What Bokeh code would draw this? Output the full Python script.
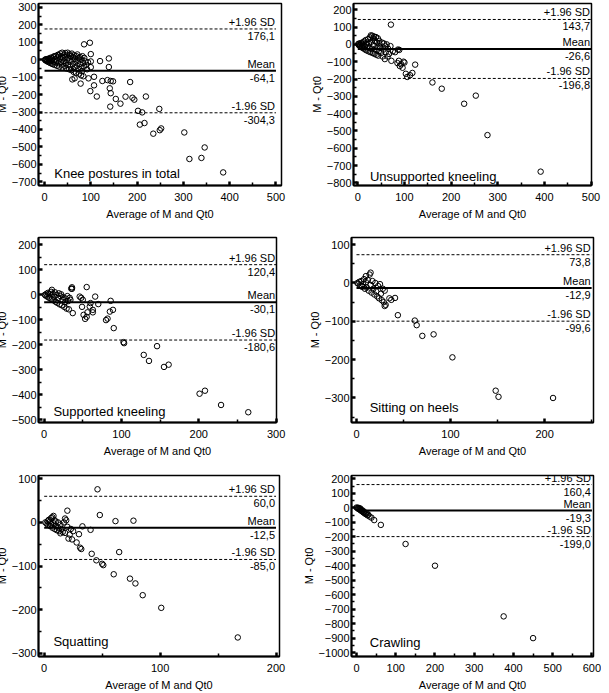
from bokeh.plotting import figure
from bokeh.layouts import column, row
from bokeh.models import FixedTicker, Label, Range1d
from bokeh.embed import file_html
from bokeh.resources import INLINE

FONT = "Liberation Sans"

# ---------------- data ----------------
titles = ["Knee postures in total", "Unsupported kneeling", "Supported kneeling",
          "Sitting on heels", "Squatting", "Crawling"]
upper_sd = [176.1, 143.7, 120.4, 73.8, 60.0, 160.4]
mean_diff = [-64.1, -26.6, -30.1, -12.9, -12.5, -19.3]
lower_sd = [-304.3, -196.8, -180.6, -99.6, -85.0, -199.0]

# Knee postures in total
x1 = [1, 2, 3, 4, 5, 6, 7, 8, 9, 10, 11, 12, 13, 14, 15, 16, 17, 18, 19, 20,
      21, 22, 23, 24, 25, 26, 27, 28, 29, 30, 31, 32, 33, 34, 35, 36, 37, 38, 39, 40,
      41, 42, 43, 44, 45, 46, 47, 48, 49, 50, 51, 52, 53, 54, 55, 56, 57, 58, 59, 60,
      61, 62, 63, 64, 65, 66, 67, 68, 69, 70, 71, 72, 73, 74, 75, 76, 77, 78, 79, 80,
      81, 82, 83, 84, 85, 86, 88, 90, 92, 94,
      85.5, 98, 100, 120, 139, 139, 100, 100, 95, 107, 125, 136, 143, 148, 99, 107,
      113, 141, 143, 142, 154, 164, 175, 185, 190, 194, 219, 202, 211, 206, 216, 235,
      248, 249, 252, 302, 313, 339, 346, 386, 60, 65, 78]
y1 = [0, -3, 2, -6, 3, -10, -4, 5, -14, -2, 8, -18, -8, 12, -22, -1, 6, -26, 15, -10,
      20, -30, 3, -15, 22, -5, -35, 12, 28, -20, 25, -40, 5, 35, -12, 18, -28, 40, -45, 8,
      -8, 28, -35, 15, 38, -20, -50, 0, 25, 40, -30, 10, -55, -10, 30, -40, 20, -60, 35, -5,
      -25, 15, -70, 25, -45, 5, -15, -75, 20, -35, 30, -55, -5, 10, -80, -25, 15, -45, -90, 0,
      -65, 20, -20, -95, -40, 10, -10, -30, -55, -15,
      88, 97, 32, -8, 7, -42, -10, -43, -107, -98, -122, -117, -122, -124, -180, -147,
      -211, -164, -192, -269, -225, -252, -212, -128, -218, -229, -211, -293, -302, -372, -363, -424,
      -282, -404, -394, -417, -569, -563, -503, -646, -113, -107, -137]

# Unsupported kneeling
x2 = [1, 2, 3, 4, 5, 6, 7, 8, 9, 10, 11, 12, 13, 14, 15, 16, 17, 18, 19, 20,
      21, 22, 23, 24, 25, 26, 27, 28, 29, 30, 31, 32, 33, 34, 35, 36, 37, 38, 39, 40,
      41, 42, 43, 44, 45, 46, 47, 48, 50, 52, 53, 55, 56, 58, 59, 60, 62, 64, 65, 67,
      70, 72, 75, 80, 86, 89,
      71, 85, 88, 90, 93, 96, 98, 100, 103, 106, 112, 117, 123,
      160, 180, 228, 253, 278, 392]
y2 = [2, -4, 5, -8, -2, -12, 8, -15, 3, -20, 12, -5, -24, 18, -10, -30, 25, 0, -35, 10,
      -15, 30, -40, 5, -20, 40, -45, 52, 15, -25, 50, -50, 35, -5, 45, -55, 20, -30, 42, -60,
      10, -15, 35, -65, -40, 20, 0, -20, -50, 10, -70, -30, 5, -85, -10, -45, 0, -70, -25, -55,
      -10, -95, -40, -45, -30, -32,
      114, -108, -95, -125, -115, -135, -100, -105, -170, -188, -178, -165, -117,
      -220, -256, -343, -296, -524, -735]

# Supported kneeling
x3 = [1, 2, 3, 4, 5, 6, 7, 8, 9, 10, 10, 11, 12, 13, 14, 15, 16, 17, 18, 19,
      20, 21, 22, 23, 24, 25, 26, 27, 28, 29, 30, 31, 32, 33, 34, 35, 36, 37,
      36, 55, 46, 48, 50, 66, 70, 60, 59, 63, 63, 49, 51, 53, 55, 56, 86, 80, 82,
      85, 89, 90, 102.6, 103.4, 128.8, 135.6, 146, 155, 161, 201, 208, 228.8, 264]
y3 = [0, -3, 4, -7, 8, -11, 2, -15, 12, 20, -18, 5, -22, -8, 10, -28, 0, -32, -12, 6,
      -38, -5, 2, -42, -20, -10, -48, -30, -15, -55, -5, -25, -58, -12, -20, 25, 30, -73,
      24, 31, -7, -12, -20, -7, -37, -33, -47, -60, -70, -48, -80, -96, -88, -70, -24, -101, -95,
      -67, -60, -133, -189, -193, -240, -264, -205, -288, -279, -395, -383, -440, -469]

# Sitting on heels
x4 = [1, 2, 3, 4, 5, 6, 7, 8, 9, 10, 10, 11, 12, 13, 14, 15, 15, 16, 17, 18,
      19, 20, 21, 22, 23, 24, 25, 26, 27, 28, 29, 30, 31, 30, 35, 37, 41,
      44, 62, 64, 70, 82, 102, 148, 151, 209]
y4 = [0, -2, 3, -6, 5, -10, -3, 10, -15, 2, 18, -12, 8, -20, 22, 27, -5, -25, 5, -15,
      -30, 0, -22, -35, -8, -40, -3, -28, -45, -15, -50, -20, -57, -60, -40, -44, -39,
      -84, -98, -110, -138, -134, -194, -281, -297, -300]

# Squatting
x5 = [1, 2, 3, 3, 4, 5, 5, 6, 6, 7, 7, 8, 8, 9, 9, 10, 10, 11, 12, 12,
      13, 14, 14, 15, 16, 17, 18, 18, 19, 20, 20, 21, 22, 23, 24, 25, 28, 30, 31, 32,
      46, 48, 61.5, 77, 33, 41, 45, 50, 51, 64.7, 60, 74, 78.7, 85, 101, 167, 40]
y5 = [0, -2, 3, -5, 6, -8, 2, 10, -4, 12, -12, 15, -2, 5, -15, -8, 2, -18, -12, 0,
      -20, -5, -25, -15, -22, 0, -24, 9, 5, -10, 27, -37, -28, -15, -39, -20, -46, -27, -58, -61,
      76, 17, 3, 4, -9, -72, -87, -95, -98, -68, -119, -129, -140, -167, -196, -264, -17]

# Crawling
x6 = [0, 2, 4, 5, 6, 8, 9, 10, 11, 12, 14, 15, 16, 18, 19, 20, 22, 24, 26, 28,
      30, 33, 38, 45, 62, 125, 200, 375, 450]
y6 = [2, -1, -5, 0, -8, -12, -4, -16, -10, -20, -24, -18, -28, -32, -26, -36, -40, -44, -38, -52,
      -48, -60, -68, -85, -118, -250, -400, -750, -900]

xs = [x1, x2, x3, x4, x5, x6]
ys = [y1, y2, y3, y4, y5, y6]

# ---------------- layout / styling ----------------
cfg = [
    dict(w=304, h=231, b=(3, 15, 43, 43), xr=(-13, 512), yr=(-721, 322),
         xt=[0, 100, 200, 300, 400, 500], xm=[50, 150, 250, 350, 450],
         yt=list(range(-700, 301, 100)), ym=list(range(-650, 251, 100)),
         end=500, tpos=(21, -651)),
    dict(w=305, h=231, b=(1, 10, 46, 57), xr=(-9.2, 501), yr=(-815, 236),
         xt=[0, 100, 200, 300, 400, 500], xm=[50, 150, 250, 350, 450],
         yt=list(range(-800, 201, 100)), ym=list(range(-750, 151, 100)),
         end=500, tpos=(26, -762)),
    dict(w=304, h=231, b=(6, 20, 40, 45), xr=(-7.3, 300.5), yr=(-510, 229),
         xt=[0, 100, 200, 300], xm=[50, 150, 250],
         yt=list(range(-500, 201, 100)), ym=list(range(-450, 151, 100)),
         end=300, tpos=(12, -467)),
    dict(w=305, h=231, b=(6, 8, 36, 55), xr=(-5.3, 252), yr=(-364, 118.7),
         xt=[0, 100, 200], xm=[50, 150, 250],
         yt=list(range(-300, 101, 100)), ym=list(range(-350, 51, 100)),
         end=250, tpos=(14, -325)),
    dict(w=304, h=231, b=(13, 17, 34, 45), xr=(-4.9, 203), yr=(-307.7, 107.7),
         xt=[0, 100, 200], xm=[50, 150],
         yt=list(range(-300, 101, 100)), ym=list(range(-250, 51, 100)),
         end=200, tpos=(8, -273)),
    dict(w=305, h=231, b=(13, 8, 34, 55), xr=(-12.8, 604), yr=(-1027, 223),
         xt=[0, 100, 200, 300, 400, 500, 600], xm=[50, 150, 250, 350, 450, 550],
         yt=list(range(-1000, 201, 100)), ym=list(range(-950, 151, 100)),
         end=600, tpos=(34, -929)),
]


def fmt(v):
    return f"{v:.1f}".replace(".", ",")


def make_panel(i):
    c = cfg[i]
    t, r, bt, l = c["b"]
    p = figure(width=c["w"], height=c["h"], x_range=Range1d(*c["xr"]),
               y_range=Range1d(*c["yr"]), output_backend="svg", toolbar_location=None,
               min_border_top=t, min_border_right=r, min_border_bottom=bt, min_border_left=l)
    p.grid.visible = False
    p.outline_line_color = "black"
    p.outline_line_width = 1.5
    p.background_fill_color = "white"
    p.border_fill_color = "white"
    p.xaxis.axis_label = "Average of M and Qt0"
    p.yaxis.axis_label = "M - Qt0"
    p.xaxis.ticker = FixedTicker(ticks=c["xt"], minor_ticks=c["xm"])
    p.yaxis.ticker = FixedTicker(ticks=c["yt"], minor_ticks=c["ym"])
    for ax in (p.xaxis[0], p.yaxis[0]):
        ax.axis_line_width = 2
        ax.axis_line_color = "black"
        ax.major_tick_in = 4
        ax.major_tick_out = 0
        ax.major_tick_line_width = 2.5
        ax.minor_tick_in = 3
        ax.minor_tick_out = 0
        ax.minor_tick_line_width = 1.5
        ax.major_label_text_font = FONT
        ax.major_label_text_font_size = "11px"
        ax.major_label_text_color = "black"
        ax.major_label_standoff = 3
        ax.axis_label_text_font = FONT
        ax.axis_label_text_font_size = "11px"
        ax.axis_label_text_font_style = "normal"
        ax.axis_label_text_color = "black"
        ax.axis_label_standoff = 4
    p.xaxis[0].major_label_standoff = 7
    p.yaxis[0].major_label_standoff = 2
    p.yaxis[0].axis_label_standoff = 1

    end = c["end"]
    up, mn, lo = upper_sd[i], mean_diff[i], lower_sd[i]
    p.line([0, end], [up, up], line_color="black", line_width=1, line_dash="3 2")
    p.line([0, end], [lo, lo], line_color="black", line_width=1, line_dash="3 2")
    p.line([0, end], [mn, mn], line_color="black", line_width=2)

    p.scatter(xs[i], ys[i], marker="circle", size=5.5, line_color="black",
              line_width=1, fill_color=None)

    def lab(y, text, above):
        p.add_layout(Label(x=end, y=y, text=text, text_align="right",
                           text_baseline="bottom" if above else "top",
                           y_offset=1 if above else -3, x_offset=-1,
                           text_font=FONT, text_font_size="11px", text_color="black"))

    lab(up, "+1.96 SD", True)
    lab(up, fmt(up), False)
    lab(mn, "Mean", True)
    lab(mn, fmt(mn), False)
    lab(lo, "-1.96 SD", True)
    lab(lo, fmt(lo), False)

    tx, ty = c["tpos"]
    p.add_layout(Label(x=tx, y=ty, text=titles[i], text_align="left",
                       text_baseline="alphabetic", text_font=FONT,
                       text_font_size="13px", text_color="black"))
    return p


panels = [make_panel(i) for i in range(6)]
layout = column(row(panels[0], panels[1]), row(panels[2], panels[3]),
                row(panels[4], panels[5]), margin=(0, 0, 0, -8))

open("out.html", "w").write(file_html(layout, INLINE))
